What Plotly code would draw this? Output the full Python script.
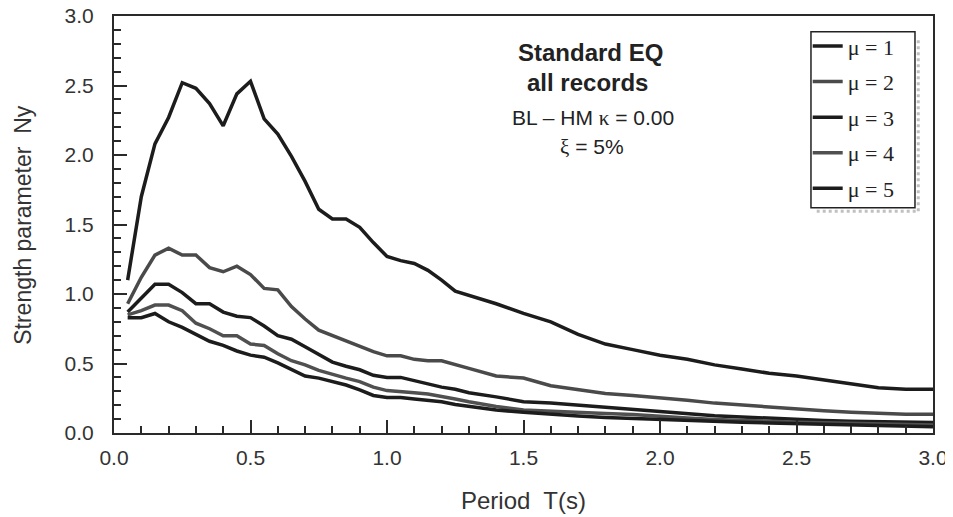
import plotly.graph_objects as go

period = [0.05, 0.10, 0.15, 0.20, 0.25, 0.30, 0.35, 0.40, 0.45, 0.50,
          0.55, 0.60, 0.65, 0.70, 0.75, 0.80, 0.85, 0.90, 0.95, 1.00,
          1.05, 1.10, 1.15, 1.20, 1.25, 1.30, 1.40, 1.50, 1.60, 1.70,
          1.80, 1.90, 2.00, 2.10, 2.20, 2.30, 2.40, 2.50, 2.60, 2.70,
          2.80, 2.90, 3.00]

ny_mu1 = [1.10, 1.70, 2.08, 2.27, 2.52, 2.48, 2.37, 2.21, 2.44, 2.53,
          2.26, 2.15, 1.99, 1.81, 1.61, 1.54, 1.54, 1.48, 1.37, 1.27,
          1.24, 1.22, 1.17, 1.10, 1.02, 0.99, 0.93, 0.86, 0.80, 0.71,
          0.64, 0.60, 0.56, 0.53, 0.49, 0.46, 0.43, 0.41, 0.38, 0.35,
          0.325, 0.315, 0.315]
ny_mu2 = [0.93, 1.12, 1.28, 1.33, 1.28, 1.28, 1.19, 1.16, 1.20, 1.14,
          1.04, 1.03, 0.91, 0.82, 0.74, 0.70, 0.66, 0.62, 0.585, 0.555,
          0.555, 0.53, 0.52, 0.52, 0.49, 0.465, 0.41, 0.395, 0.34, 0.315,
          0.285, 0.27, 0.255, 0.235, 0.215, 0.20, 0.185, 0.17, 0.16, 0.15,
          0.14, 0.135, 0.135]
ny_mu3 = [0.87, 0.97, 1.07, 1.07, 1.01, 0.93, 0.93, 0.87, 0.84, 0.83,
          0.77, 0.70, 0.675, 0.62, 0.565, 0.51, 0.48, 0.455, 0.415, 0.40,
          0.40, 0.375, 0.35, 0.33, 0.315, 0.29, 0.26, 0.225, 0.215, 0.20,
          0.185, 0.17, 0.15, 0.14, 0.125, 0.115, 0.105, 0.098, 0.09, 0.085,
          0.08, 0.078, 0.075]
ny_mu4 = [0.85, 0.88, 0.92, 0.92, 0.88, 0.79, 0.75, 0.70, 0.70, 0.64,
          0.63, 0.57, 0.52, 0.49, 0.45, 0.42, 0.395, 0.37, 0.33, 0.305,
          0.30, 0.29, 0.28, 0.265, 0.245, 0.225, 0.19, 0.165, 0.155, 0.148,
          0.14, 0.133, 0.118, 0.108, 0.098, 0.09, 0.083, 0.078, 0.074, 0.07,
          0.065, 0.06, 0.058]
ny_mu5 = [0.83, 0.83, 0.86, 0.80, 0.76, 0.71, 0.66, 0.63, 0.59, 0.56,
          0.545, 0.505, 0.46, 0.41, 0.395, 0.37, 0.345, 0.31, 0.27, 0.255,
          0.255, 0.245, 0.235, 0.225, 0.205, 0.19, 0.165, 0.15, 0.135, 0.122,
          0.112, 0.104, 0.098, 0.09, 0.082, 0.077, 0.072, 0.067, 0.062, 0.058,
          0.053, 0.049, 0.045]

series_names = ["\u03bc = 1", "\u03bc = 2", "\u03bc = 3", "\u03bc = 4", "\u03bc = 5"]
series_values = [ny_mu1, ny_mu2, ny_mu3, ny_mu4, ny_mu5]
series_colors = ["#1c1c1c", "#4a4a4a", "#1c1c1c", "#505050", "#1c1c1c"]

x_tickvals = [0.0, 0.5, 1.0, 1.5, 2.0, 2.5, 3.0]
x_ticktext = ["0.0", "0.5", "1.0", "1.5", "2.0", "2.5", "3.0"]
y_tickvals = [0.0, 0.5, 1.0, 1.5, 2.0, 2.5, 3.0]
y_ticktext = ["0.0", "0.5", "1.0", "1.5", "2.0", "2.5", "3.0"]

SANS = "Liberation Sans, Arial, sans-serif"
SERIF = "Liberation Serif, Times New Roman, serif"

fig = go.Figure()
for i, (name, vals, col) in enumerate(zip(series_names, series_values, series_colors)):
    fig.add_trace(go.Scatter(
        x=period, y=vals, mode="lines", name=name,
        legendgroup="g%d" % i,
        line=dict(color=col, width=3.5),
    ))

axis_common = dict(
    showgrid=False, zeroline=False, automargin=False,
    showline=True, linecolor="#2a2a2a", linewidth=2, mirror=True,
    ticks="inside", ticklen=13, tickwidth=1.5, tickcolor="#2a2a2a",
    tickfont=dict(family=SANS, size=21, color="#333333"),
    ticklabeloverflow="allow",
    minor=dict(dtick=0.1, ticks="inside", ticklen=7, tickwidth=1.5, tickcolor="#2a2a2a"),
)

fig.update_xaxes(range=[0, 3], tickvals=x_tickvals, ticktext=x_ticktext,
                 ticklabelstandoff=5, **axis_common)
fig.update_yaxes(range=[0, 3], tickvals=y_tickvals, ticktext=y_ticktext,
                 ticklabelstandoff=14, **axis_common)

annotations = [
    dict(text="<b>Standard EQ</b>", x=1.744, y=2.741, font=dict(size=24)),
    dict(text="<b>all records</b>", x=1.736, y=2.525, font=dict(size=24)),
    dict(text="BL \u2013 HM <span style='font-family:Liberation Serif'>\u03ba</span> = 0.00",
         x=1.755, y=2.266, font=dict(size=21)),
    dict(text="<span style='font-family:Liberation Serif'>\u03be</span> = 5%",
         x=1.751, y=2.058, font=dict(size=21)),
]
for a in annotations:
    a.update(xref="x", yref="y", showarrow=False, xanchor="center", yanchor="middle")
    a["font"].update(family=SANS, color="#222222")

# axis titles
annotations.append(dict(text="Period  T(s)", xref="paper", yref="paper",
                        x=0.5, y=-0.161, showarrow=False, xanchor="center", yanchor="middle",
                        font=dict(family=SANS, size=24, color="#333333")))
annotations.append(dict(text="Strength parameter  Ny", xref="paper", yref="paper",
                        x=-0.112, y=0.5, textangle=-90, showarrow=False,
                        xanchor="center", yanchor="middle",
                        font=dict(family=SANS, size=23, color="#333333")))

fig.update_layout(
    width=945, height=509,
    margin=dict(l=106, r=20, t=8, b=84, autoexpand=False),
    paper_bgcolor="white", plot_bgcolor="white",
    showlegend=True,
    legend=dict(
        x=0.847, y=0.978, xanchor="left", yanchor="top",
        bgcolor="rgba(0,0,0,0)", borderwidth=0,
        font=dict(family=SERIF, size=22, color="#222222"),
        tracegroupgap=4, itemwidth=30,
    ),
    annotations=annotations,
    shapes=[
        # legend shadow
        dict(type="line", xref="paper", yref="paper", x0=0.982, x1=0.982, y0=0.532, y1=0.942,
             line=dict(color="#c0c0c0", width=3, dash="dot"), layer="above"),
        dict(type="line", xref="paper", yref="paper", x0=0.858, x1=0.982, y0=0.532, y1=0.532,
             line=dict(color="#c0c0c0", width=3, dash="dot"), layer="above"),
        # legend frame
        dict(type="rect", xref="paper", yref="paper", x0=0.851, x1=0.978, y0=0.540, y1=0.962,
             fillcolor="white", line=dict(color="#222222", width=1.5), layer="above"),
    ],
)

fig.write_html("out.html")
